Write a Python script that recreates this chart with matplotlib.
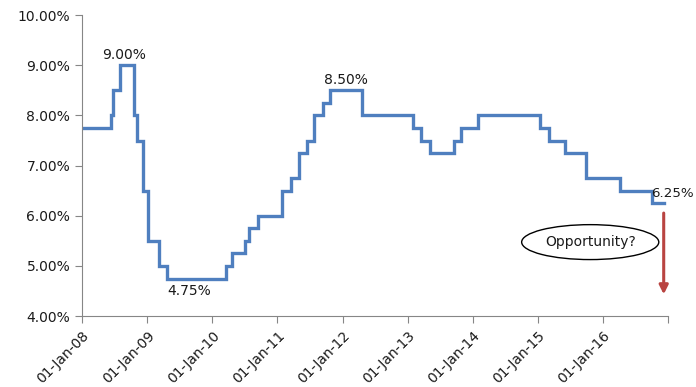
import pandas as pd
import matplotlib
matplotlib.use("Agg")
import matplotlib.pyplot as plt
import matplotlib.transforms as mtransforms
from matplotlib.patches import Ellipse

# policy rate changes (date the new rate starts, rate in %)
change_dates = [
    "2008-01-01", "2008-06-11", "2008-06-25", "2008-07-30", "2008-10-20",
    "2008-11-03", "2008-12-08", "2009-01-05", "2009-03-05", "2009-04-21",
    "2010-03-19", "2010-04-20", "2010-07-02", "2010-07-27", "2010-09-16",
    "2011-01-25", "2011-03-17", "2011-05-03", "2011-06-16", "2011-07-26",
    "2011-09-16", "2011-10-25", "2012-04-17", "2013-01-29", "2013-03-19",
    "2013-05-03", "2013-09-20", "2013-10-29", "2014-01-28", "2015-01-15",
    "2015-03-04", "2015-06-02", "2015-09-29", "2016-04-05", "2016-10-04",
    "2016-12-07",
]
rates = [
    7.75, 8.00, 8.50, 9.00, 8.00,
    7.50, 6.50, 5.50, 5.00, 4.75,
    5.00, 5.25, 5.50, 5.75, 6.00,
    6.50, 6.75, 7.25, 7.50, 8.00,
    8.25, 8.50, 8.00, 7.75, 7.50,
    7.25, 7.50, 7.75, 8.00, 7.75,
    7.50, 7.25, 6.75, 6.50, 6.25,
    6.25,
]

tick_years = list(range(2008, 2018))
tick_labels = [f"01-Jan-{y % 100:02d}" for y in range(2008, 2017)] + [""]

# (date, rate, label, offset in px, ha, va)
callouts = [
    ("2008-09-10", 9.00, "9.00%", (-3, 3), "center", "bottom"),
    ("2009-09-20", 4.75, "4.75%", (-5, -5), "center", "top"),
    ("2012-01-20", 8.50, "8.50%", (0, 3), "center", "bottom"),
    ("2016-10-04", 6.25, "6.25%", (-1, 3), "left", "bottom"),
]
arrow_from = 6.11
arrow_to = 4.38

x = pd.to_datetime(change_dates)
axis_grey = "#868686"

fig = plt.figure(figsize=(6.96, 3.87), dpi=100)
ax = fig.add_axes([0.118, 0.183, 0.842, 0.778])

ax.step(x, rates, where="post", color="#4F7FBF", lw=2.4, solid_joinstyle="miter")

ax.set_ylim(4, 10)
ax.set_yticks(range(4, 11))
ax.set_yticklabels([f"{v:.2f}%" for v in range(4, 11)])
ax.set_xlim(pd.Timestamp("2008-01-01"), pd.Timestamp("2017-01-01"))
ax.set_xticks(pd.to_datetime([f"{y}-01-01" for y in tick_years]))
ax.set_xticklabels(tick_labels, rotation=45, ha="right", rotation_mode="anchor")

shift = mtransforms.ScaledTranslation(5 / 100, 0, fig.dpi_scale_trans)
for lab in ax.get_xticklabels():
    lab.set_transform(lab.get_transform() + shift)

for side in ["top", "right"]:
    ax.spines[side].set_visible(False)
for side in ["left", "bottom"]:
    ax.spines[side].set_color(axis_grey)
ax.tick_params(axis="both", colors=axis_grey, labelcolor="#1a1a1a", labelsize=10, length=5, direction="out")
ax.tick_params(axis="x", pad=4)

for d, v, txt, off, ha, va in callouts:
    ax.annotate(txt, xy=(pd.Timestamp(d), v), xytext=off, textcoords="offset pixels",
                ha=ha, va=va, fontsize=10 if txt != "6.25%" else 9.6, color="#1a1a1a",
                annotation_clip=False)

# the "Opportunity?" call-out
ell = Ellipse((0.867, 0.246), 0.234, 0.116, transform=ax.transAxes,
              facecolor="white", edgecolor="black", lw=1.0, clip_on=False)
ax.add_patch(ell)
ax.text(0.867, 0.246, "Opportunity?", transform=ax.transAxes, ha="center", va="center",
        fontsize=10, color="#1a1a1a")

last = x[-1]
ax.annotate("", xy=(last, arrow_to), xytext=(last, arrow_from),
            arrowprops=dict(arrowstyle="-|>", color="#B94441", lw=2.2, mutation_scale=13),
            annotation_clip=False)

fig.savefig("out.png", dpi=100)
